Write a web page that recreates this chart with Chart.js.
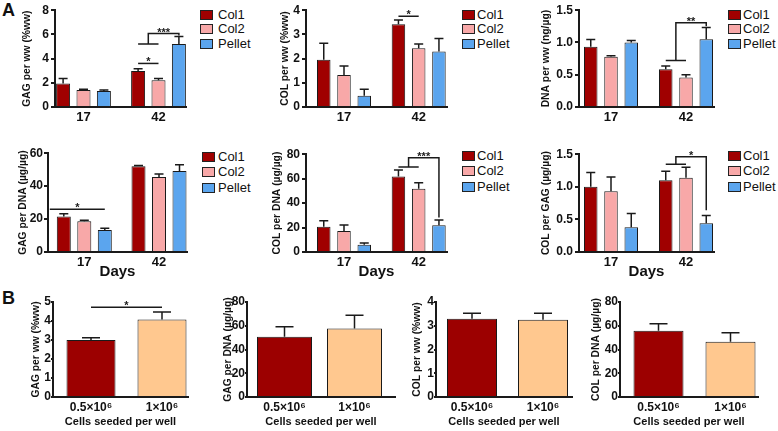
<!DOCTYPE html>
<html>
<head>
<meta charset="utf-8">
<script src="https://cdn.jsdelivr.net/npm/chart.js@4.4.0/dist/chart.umd.min.js"></script>
<style>
html, body { margin:0; padding:0; background:#fff; }
#fig { position:relative; width:778px; height:431px; overflow:hidden; font-family:'Liberation Sans', Arial, sans-serif; color:#111; }
.letter { position:absolute; font-weight:bold; font-size:18px; line-height:18px; }
.leg { position:absolute; font-size:13px; line-height:14px; white-space:nowrap; }
.leg span { position:absolute; left:0; top:2px; width:13px; height:10px; border:1px solid #222; box-sizing:border-box; }
</style>
</head>
<body>
<div id="fig">
  <div class="letter" style="left:2px;top:1px">A</div>
  <div class="letter" style="left:2px;top:289px">B</div>
</div>
<script>
// ---- data ----
const days = ['17', '42'];
const groups = ['Col1', 'Col2', 'Pellet'];
const groupColors = ['#a00000', '#f8a8a8', '#5ba5ee'];

// rows: Col1, Col2, Pellet / cols: day 17, day 42
const gagWwMean  = [[1.95, 2.98], [1.41, 2.22], [1.33, 5.20]];
const gagWwErr   = [[0.40, 0.19], [0.05, 0.14], [0.07, 0.63]];
const colWwMean  = [[1.95, 3.42], [1.32, 2.43], [0.47, 2.29]];
const colWwErr   = [[0.68, 0.17], [0.37, 0.17], [0.26, 0.54]];
const dnaWwMean  = [[0.935, 0.585], [0.78, 0.458], [1.00, 1.05]];
const dnaWwErr   = [[0.11, 0.05], [0.015, 0.04], [0.03, 0.18]];
const gagDnaMean = [[21.5, 52.0], [18.7, 45.6], [13.4, 49.2]];
const gagDnaErr  = [[1.8, 0.6], [0.6, 1.8], [1.0, 3.8]];
const colDnaMean = [[20.7, 61.7], [17.2, 51.7], [5.9, 21.8]];
const colDnaErr  = [[4.9, 5.4], [4.9, 4.9], [1.4, 4.3]];
const colGagMean = [[1.00, 1.10], [0.93, 1.14], [0.38, 0.44]];
const colGagErr  = [[0.22, 0.14], [0.22, 0.16], [0.21, 0.12]];

// B: cells seeded per well
const seeding = ['0.5×10⁶', '1×10⁶'];
const seedColors = ['#9c0000', '#ffc88f'];
const bGagWwMean  = [3.00, 4.08];
const bGagWwErr   = [0.12, 0.40];
const bGagDnaMean = [50.7, 57.7];
const bGagDnaErr  = [8.4, 11.1];
const bColWwMean  = [3.29, 3.25];
const bColWwErr   = [0.24, 0.28];
const bColDnaMean = [55.7, 46.5];
const bColDnaErr  = [5.9, 7.6];

// significance marks, [category, dataset] refs, heights in axis units
const sigGagWw  = [{kind:'pair', a:[1,0], b:[1,1], y:3.6, text:'*'},
                   {kind:'group', a:[1,0], b:[1,1], t:[1,2], low:5.2, high:6.07, drop:5.9, text:'***'}];
const sigColWw  = [{kind:'pair', a:[1,0], b:[1,1], y:3.75, text:'*'}];
const sigDnaWw  = [{kind:'group', a:[1,0], b:[1,1], t:[1,2], low:0.72, high:1.306, drop:1.25, text:'**'}];
const sigGagDna = [{kind:'pair', a:[0,0], b:[0,2], y:25.9, text:'*', shiftA:-14}];
const sigColDna = [{kind:'group', a:[1,0], b:[1,1], t:[1,2], low:69.5, high:77, drop:28.3, text:'***'}];
const sigColGag = [{kind:'group', a:[1,0], b:[1,1], t:[1,2], low:1.344, high:1.46, drop:0.64, text:'*'}];
const sigBGagWw = [{kind:'pair', a:[0,0], b:[1,0], y:4.72, text:'*'}];

Chart.defaults.font.family = "'Liberation Sans', Arial, sans-serif";
Chart.defaults.color = '#111';
const ink = '#1a1a1a';
const titleSize = 10.3;
const fig = document.getElementById('fig');

/*************** marks plugin: error bars + brackets ***************/
function marksPlugin(p) {
  return {
    id: 'marks',
    afterDatasetsDraw(chart) {
      const ctx = chart.ctx, ys = chart.scales.y;
      ctx.save();
      ctx.strokeStyle = ink; ctx.lineWidth = 1.5;
      chart.data.datasets.forEach((ds, i) => {
        chart.getDatasetMeta(i).data.forEach((bar, j) => {
          const yTop = ys.getPixelForValue(ds.data[j].y + ds.err[j]);
          ctx.beginPath();
          ctx.moveTo(bar.x, bar.y); ctx.lineTo(bar.x, yTop);
          ctx.moveTo(bar.x - p.cap / 2, yTop); ctx.lineTo(bar.x + p.cap / 2, yTop);
          ctx.stroke();
        });
      });
      const at = (ref, shift) => chart.getDatasetMeta(ref[1]).data[ref[0]].x + (shift || 0);
      ctx.fillStyle = ink; ctx.font = "bold 11px 'Liberation Sans', Arial";
      ctx.textAlign = 'center'; ctx.textBaseline = 'alphabetic';
      (p.sig || []).forEach(s => {
        const xa = at(s.a, s.shiftA), xb = at(s.b);
        let tx, ty;
        ctx.beginPath();
        if (s.kind === 'pair') {
          const y = ys.getPixelForValue(s.y);
          ctx.moveTo(xa, y); ctx.lineTo(xb, y);
          tx = (xa + xb) / 2; ty = y;
        } else {
          const yl = ys.getPixelForValue(s.low), yh = ys.getPixelForValue(s.high), yd = ys.getPixelForValue(s.drop);
          const xm = (xa + xb) / 2, xt = at(s.t);
          ctx.moveTo(xa, yl); ctx.lineTo(xb, yl);
          ctx.moveTo(xm, yl); ctx.lineTo(xm, yh); ctx.lineTo(xt, yh); ctx.lineTo(xt, yd);
          tx = (xm + xt) / 2; ty = yh;
        }
        ctx.stroke();
        ctx.fillText(s.text, tx, ty + 2);
      });
      ctx.restore();
    }
  };
}

function addLegend(lg) {
  groups.forEach((g, i) => {
    const d = document.createElement('div');
    d.className = 'leg';
    d.style.left = lg.x + 'px';
    d.style.top = (lg.y[i] - 7) + 'px';
    d.innerHTML = '<span style="background:' + groupColors[i] + '"></span>' +
      '<b style="font-weight:normal;position:absolute;left:' + (lg.tx - lg.x) + 'px;top:0">' + g + '</b>';
    fig.appendChild(d);
  });
}

/*************** one panel ***************/
function makePanel(p) {
  const padTop = 8, padRight = 3;
  const left = Math.round(p.titleCX - titleSize * 1.2 / 2);
  const yw = p.axisX - left;
  const width = Math.round(p.plotRight + padRight - left);
  const top = p.plotTop - padTop;
  const height = padTop + (p.plotBottom - p.plotTop) + p.xh;
  const cnv = document.createElement('canvas');
  cnv.width = width; cnv.height = height;
  cnv.style.cssText = 'position:absolute;left:' + left + 'px;top:' + top + 'px;width:' + width + 'px;height:' + height + 'px';
  fig.appendChild(cnv);

  const d = p.c1 - p.c0;
  const n = p.series.length;
  const slot = p.slot || d;
  const datasets = p.series.map(s => ({
    label: s.label,
    data: s.values.map((v, i) => ({x: i, y: v})),
    err: s.err,
    backgroundColor: s.color,
    borderColor: ink,
    borderWidth: 1,
    categoryPercentage: slot * n / d,
    barPercentage: p.barW / slot
  }));

  new Chart(cnv.getContext('2d'), {
    type: 'bar',
    data: { datasets: datasets },
    options: {
      responsive: false, animation: false, devicePixelRatio: 1,
      layout: { padding: { top: padTop, right: padRight, left: 0, bottom: 0 } },
      plugins: { legend: { display: false }, tooltip: { enabled: false } },
      scales: {
        x: {
          type: 'linear', bounds: 'data', offset: false,
          min: (p.axisX - p.c0) / d, max: 1 + (p.plotRight - p.c1) / d,
          grid: { display: false, drawTicks: false, offset: false },
          border: { display: true, color: ink, width: 2 },
          afterBuildTicks: s => { s.ticks = p.xLabels.map((l, i) => ({ value: i })); },
          ticks: { callback: (v, i) => p.xLabels[i], autoSkip: false, maxRotation: 0, padding: 3,
                   font: { size: p.xFont, weight: 'bold' }, color: '#111' },
          title: p.xTitle ? { display: true, text: p.xTitle, padding: 0, color: '#111',
                              font: { size: p.xTitleFont, weight: 'bold' } } : { display: false },
          afterFit: s => { s.height = p.xh; }
        },
        y: {
          min: 0, max: p.yMax,
          ticks: { stepSize: p.yStep, callback: v => v.toFixed(p.yDec || 0), padding: p.tickPad === undefined ? 2 : p.tickPad,
                   font: { size: 12, weight: 'bold' }, color: '#111' },
          grid: { drawOnChartArea: false, drawTicks: true, tickLength: p.tick || 4, color: ink, lineWidth: 2 },
          border: { display: true, color: ink, width: 2 },
          title: { display: true, text: p.yTitle, padding: 0, color: '#111', font: { size: titleSize, weight: 'bold' } },
          afterFit: s => { s.width = yw; }
        }
      }
    },
    plugins: [marksPlugin(p)]
  });
  if (p.legend) addLegend(p.legend);
}

const seriesA = (m, e) => groups.map((g, i) => ({ label: g, values: m[i], err: e[i], color: groupColors[i] }));
const seriesB = (m, e) => [{ label: 'seeded', values: m, err: e, color: seedColors }];

// row 1
makePanel({ titleCX:27, axisX:55, plotRight:186, plotTop:9, plotBottom:107, xh:20, c0:83.5, c1:158.5, slot:20.4, barW:14, cap:9,
  yMax:8, yStep:2, yTitle:'GAG per ww (%ww)', xLabels:days, xFont:13, series:seriesA(gagWwMean, gagWwErr), sig:sigGagWw,
  legend:{x:200, tx:218, y:[14.5, 29, 43.5]} });
makePanel({ titleCX:285, axisX:306, plotRight:447, plotTop:9, plotBottom:107, xh:20, c0:344, c1:418.7, slot:20.25, barW:13.5, cap:9,
  yMax:4, yStep:1, yTitle:'COL per ww (%ww)', xLabels:days, xFont:13, series:seriesA(colWwMean, colWwErr), sig:sigColWw,
  legend:{x:462, tx:477, y:[14.5, 29, 43.5]} });
makePanel({ titleCX:546, axisX:579, plotRight:714, plotTop:9, plotBottom:107, xh:20, c0:611, c1:686, slot:20.25, barW:13.5, cap:9,
  yMax:1.5, yStep:0.5, yDec:1, yTitle:'DNA per ww (ng/µg)', xLabels:days, xFont:13, series:seriesA(dnaWwMean, dnaWwErr), sig:sigDnaWw,
  legend:{x:728, tx:743, y:[14.5, 29, 43.5]} });
// row 2
makePanel({ titleCX:23, axisX:48, plotRight:187, plotTop:153, plotBottom:252, xh:29, c0:84.3, c1:159, slot:20.5, barW:14, cap:9, tickPad:1,
  yMax:60, yStep:20, yTitle:'GAG per DNA (µg/µg)', xLabels:days, xFont:13, xTitle:'Days', xTitleFont:15,
  series:seriesA(gagDnaMean, gagDnaErr), sig:sigGagDna, legend:{x:202, tx:218, y:[156.5, 172, 187.5]} });
makePanel({ titleCX:277, axisX:306, plotRight:447, plotTop:153, plotBottom:252, xh:29, c0:344, c1:418.7, slot:20.25, barW:13.5, cap:9,
  yMax:80, yStep:20, yTitle:'COL per DNA (µg/µg)', xLabels:days, xFont:13, xTitle:'Days', xTitleFont:15,
  series:seriesA(colDnaMean, colDnaErr), sig:sigColDna, legend:{x:462, tx:477, y:[155.5, 171, 186.5]} });
makePanel({ titleCX:546, axisX:579, plotRight:714, plotTop:153, plotBottom:252, xh:29, c0:611, c1:686, slot:20.25, barW:13.5, cap:9,
  yMax:1.5, yStep:0.5, yDec:1, yTitle:'COL per GAG (µg/µg)', xLabels:days, xFont:13, xTitle:'Days', xTitleFont:15,
  series:seriesA(colGagMean, colGagErr), sig:sigColGag, legend:{x:728, tx:743, y:[155.5, 171, 186.5]} });
// row B
makePanel({ titleCX:36, axisX:53, plotRight:188, plotTop:302, plotBottom:397, xh:32, c0:91, c1:162, barW:49, cap:18, tick:2, tickPad:0,
  yMax:5, yStep:1, yTitle:'GAG per ww (%ww)', xLabels:seeding, xFont:12, xTitle:'Cells seeded per well', xTitleFont:11,
  series:seriesB(bGagWwMean, bGagWwErr), sig:sigBGagWw });
makePanel({ titleCX:228, axisX:247, plotRight:395, plotTop:302, plotBottom:397, xh:32, c0:284.5, c1:354.5, barW:55, cap:18, tick:2, tickPad:0,
  yMax:80, yStep:20, yTitle:'GAG per DNA (µg/µg)', xLabels:seeding, xFont:12, xTitle:'Cells seeded per well', xTitleFont:11,
  series:seriesB(bGagDnaMean, bGagDnaErr) });
makePanel({ titleCX:417, axisX:436, plotRight:572, plotTop:302, plotBottom:397, xh:32, c0:472, c1:543, barW:50, cap:18, tick:2, tickPad:0,
  yMax:4, yStep:1, yTitle:'COL per ww (%ww)', xLabels:seeding, xFont:12, xTitle:'Cells seeded per well', xTitleFont:11,
  series:seriesB(bColWwMean, bColWwErr) });
makePanel({ titleCX:596, axisX:620, plotRight:758, plotTop:302, plotBottom:397, xh:32, c0:658.5, c1:730.5, barW:50, cap:18, tick:2, tickPad:0,
  yMax:80, yStep:20, yTitle:'COL per DNA (µg/µg)', xLabels:seeding, xFont:12, xTitle:'Cells seeded per well', xTitleFont:11,
  series:seriesB(bColDnaMean, bColDnaErr) });
</script>
</body>
</html>
